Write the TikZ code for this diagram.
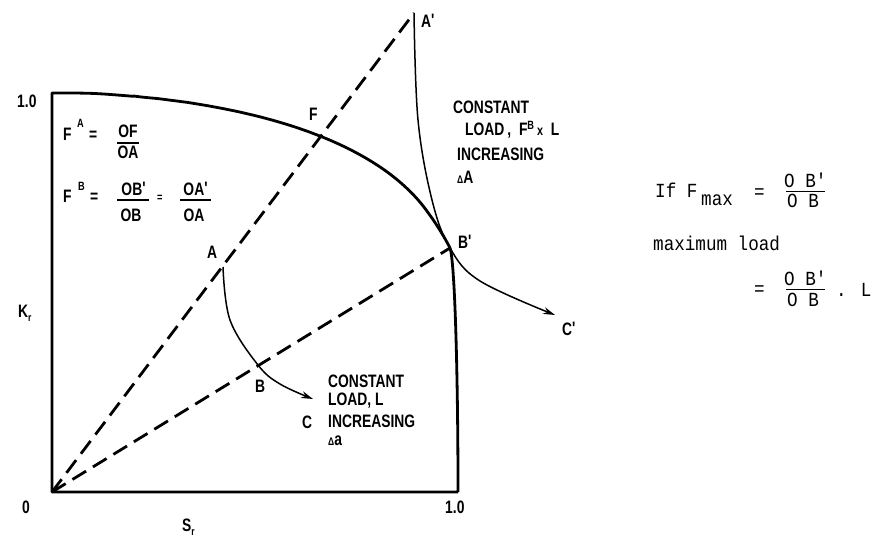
\documentclass[tikz,border=0pt]{standalone}
\usepackage{fontspec}
\usetikzlibrary{arrows.meta}
\newfontfamily\labfont[FakeStretch=0.77]{Liberation Sans}
\newfontfamily\typfont[FakeStretch=0.88]{Liberation Mono}
\newcommand{\pr}{\textquotesingle}
\begin{document}
\begin{tikzpicture}[x=1pt,y=-1pt,
  lab/.style={font=\labfont\bfseries\fontsize{18}{20}\selectfont, inner sep=0pt, anchor=base west},
  labc/.style={lab, anchor=base},
  supl/.style={font=\labfont\bfseries\fontsize{12}{14}\selectfont, inner sep=0pt, anchor=base west},
  typ/.style={font=\typfont\fontsize{20}{22}\selectfont, inner sep=0pt, anchor=base west},
  typc/.style={typ, anchor=base},
  fadcurve/.style={line width=2.8pt, line join=round},
  dashline/.style={line width=2.8pt, dash pattern=on 16pt off 8pt},
  thincurve/.style={line width=1.5pt},
  arrowend/.style={-{Stealth[length=12pt,width=7pt]}},
  fbar/.style={line width=1.3pt},
  tbar/.style={line width=0.8pt}]
\useasboundingbox (0,0) rectangle (888,539);
\fill[white] (0,0) rectangle (888,539);
% key points
\coordinate (O) at (52,492);
\coordinate (Top) at (52,93);
\coordinate (Br) at (458,492);
\coordinate (Ap) at (414,13);
\coordinate (Bp) at (450,248);
\coordinate (A) at (223,267);
\coordinate (B) at (258,365);
\coordinate (F) at (322,135);
\coordinate (Ctip) at (313,399);
\coordinate (Cptip) at (555,315);
% failure assessment curve and axes
\draw[fadcurve] (Br) -- (O) -- (Top)
  .. controls (92.6,93) and (92.6,93) .. (133.2,96.3)
  -- plot[domain=0.2:0.93, samples=50, smooth, variable=\s]
     ({52+406*\s}, {492-399*\s/sqrt(0.810569*ln(sec(90*\s)))})
  .. controls (436.6,224.3) and (445,238) .. (Bp)
  .. controls (455,262) and (458,380) .. (Br);
% dashed rays
\draw[dashline] (O) -- (Ap);
\draw[dashline] (O) -- (Bp);
% thin curves
\draw[thincurve, arrowend] plot[smooth, tension=0.6] coordinates {(A) (230,320) (B) (280,384) (Ctip)};
\draw[thincurve, arrowend] plot[smooth, tension=0.6] coordinates {(Ap) (418,120) (432,200) (Bp) (480,281) (Cptip)};
% axis labels
\node[lab] (one1) at (17,107) {1.0};
\node[lab] (zero) at (22,513) {0};
\node[lab] (one2) at (445,513) {1.0};
\node[lab] (Kr) at (18,317) {K\raisebox{-4pt}{\fontsize{11}{12}\selectfont r}};
\node[lab] (Sr) at (182,531) {S\raisebox{-4pt}{\fontsize{11}{12}\selectfont r}};
% point labels
\node[lab] (lApr) at (421,27) {A\raisebox{1pt}{\pr}};
\node[lab] (lF) at (309,120) {F};
\node[lab] (lBpr) at (458,248) {B\raisebox{1pt}{\pr}};
\node[lab] (lCpr) at (562,335) {C\raisebox{1pt}{\pr}};
\node[lab] (lA) at (207,258) {A};
\node[lab] (lB) at (255,392) {B};
\node[lab] (lC) at (302,428) {C};
% upper right text
\node[lab] (t1) at (453,113) {CONSTANT};
\node[lab] (t2) at (465,135) {LOAD\,,\ \ F\raisebox{6pt}{\fontsize{12}{14}\selectfont B}\,{\fontsize{14}{16}\selectfont x}\ \ L};
\node[lab] (t3) at (457,160) {INCREASING};
\node[lab] (t4) at (457,183) {{\fontsize{11}{12}\selectfont Δ}A};
% lower text
\node[lab] (u1) at (328,387) {CONSTANT};
\node[lab] (u2) at (328,405) {LOAD, L};
\node[lab] (u3) at (328,427) {INCREASING};
\node[lab] (u4) at (328,445) {{\fontsize{11}{12}\selectfont Δ}a};
% formulas left
\node[lab] (fa) at (63,140) {F};
\node[supl] (fas) at (77,127) {A};
\node[lab] (fae) at (89,140) {=};
\node[labc] (fan) at (128,137) {OF};
\draw[fbar] (117,143) -- (139,143);
\node[labc] (fad) at (128,158) {OA};
\node[lab] (fb) at (63,202) {F};
\node[supl] (fbs) at (78,190) {B};
\node[lab] (fbe) at (90,202) {=};
\node[labc] (fbn1) at (134,195) {OB\raisebox{1pt}{\pr}};
\draw[fbar] (117,200) -- (149,200);
\node[labc] (fbd1) at (131,221) {OB};
\node[supl] (fbe2) at (157,201) {=};
\node[labc] (fbn2) at (196,195) {OA\raisebox{1pt}{\pr}};
\draw[fbar] (180,200) -- (211,200);
\node[labc] (fbd2) at (194,221) {OA};
% right typed text
\node[typ] (iff) at (655,197) {If F};
\node[typ] (imax) at (701,205) {max};
\node[typ] (ieq) at (754,198) {=};
\node[typc] (in1) at (806,187) {O B\pr};
\draw[tbar] (786,191) -- (825,191);
\node[typc] (id1) at (803,207) {O B};
\node[typ] (mload) at (653,250) {maximum load};
\node[typ] (meq) at (754,295) {=};
\node[typc] (mn1) at (806,285) {O B\pr};
\draw[tbar] (786,289.5) -- (825,289.5);
\node[typc] (md1) at (803,306) {O B};
\node[typ] (mL) at (836,296) {. L};
\end{tikzpicture}
\end{document}
